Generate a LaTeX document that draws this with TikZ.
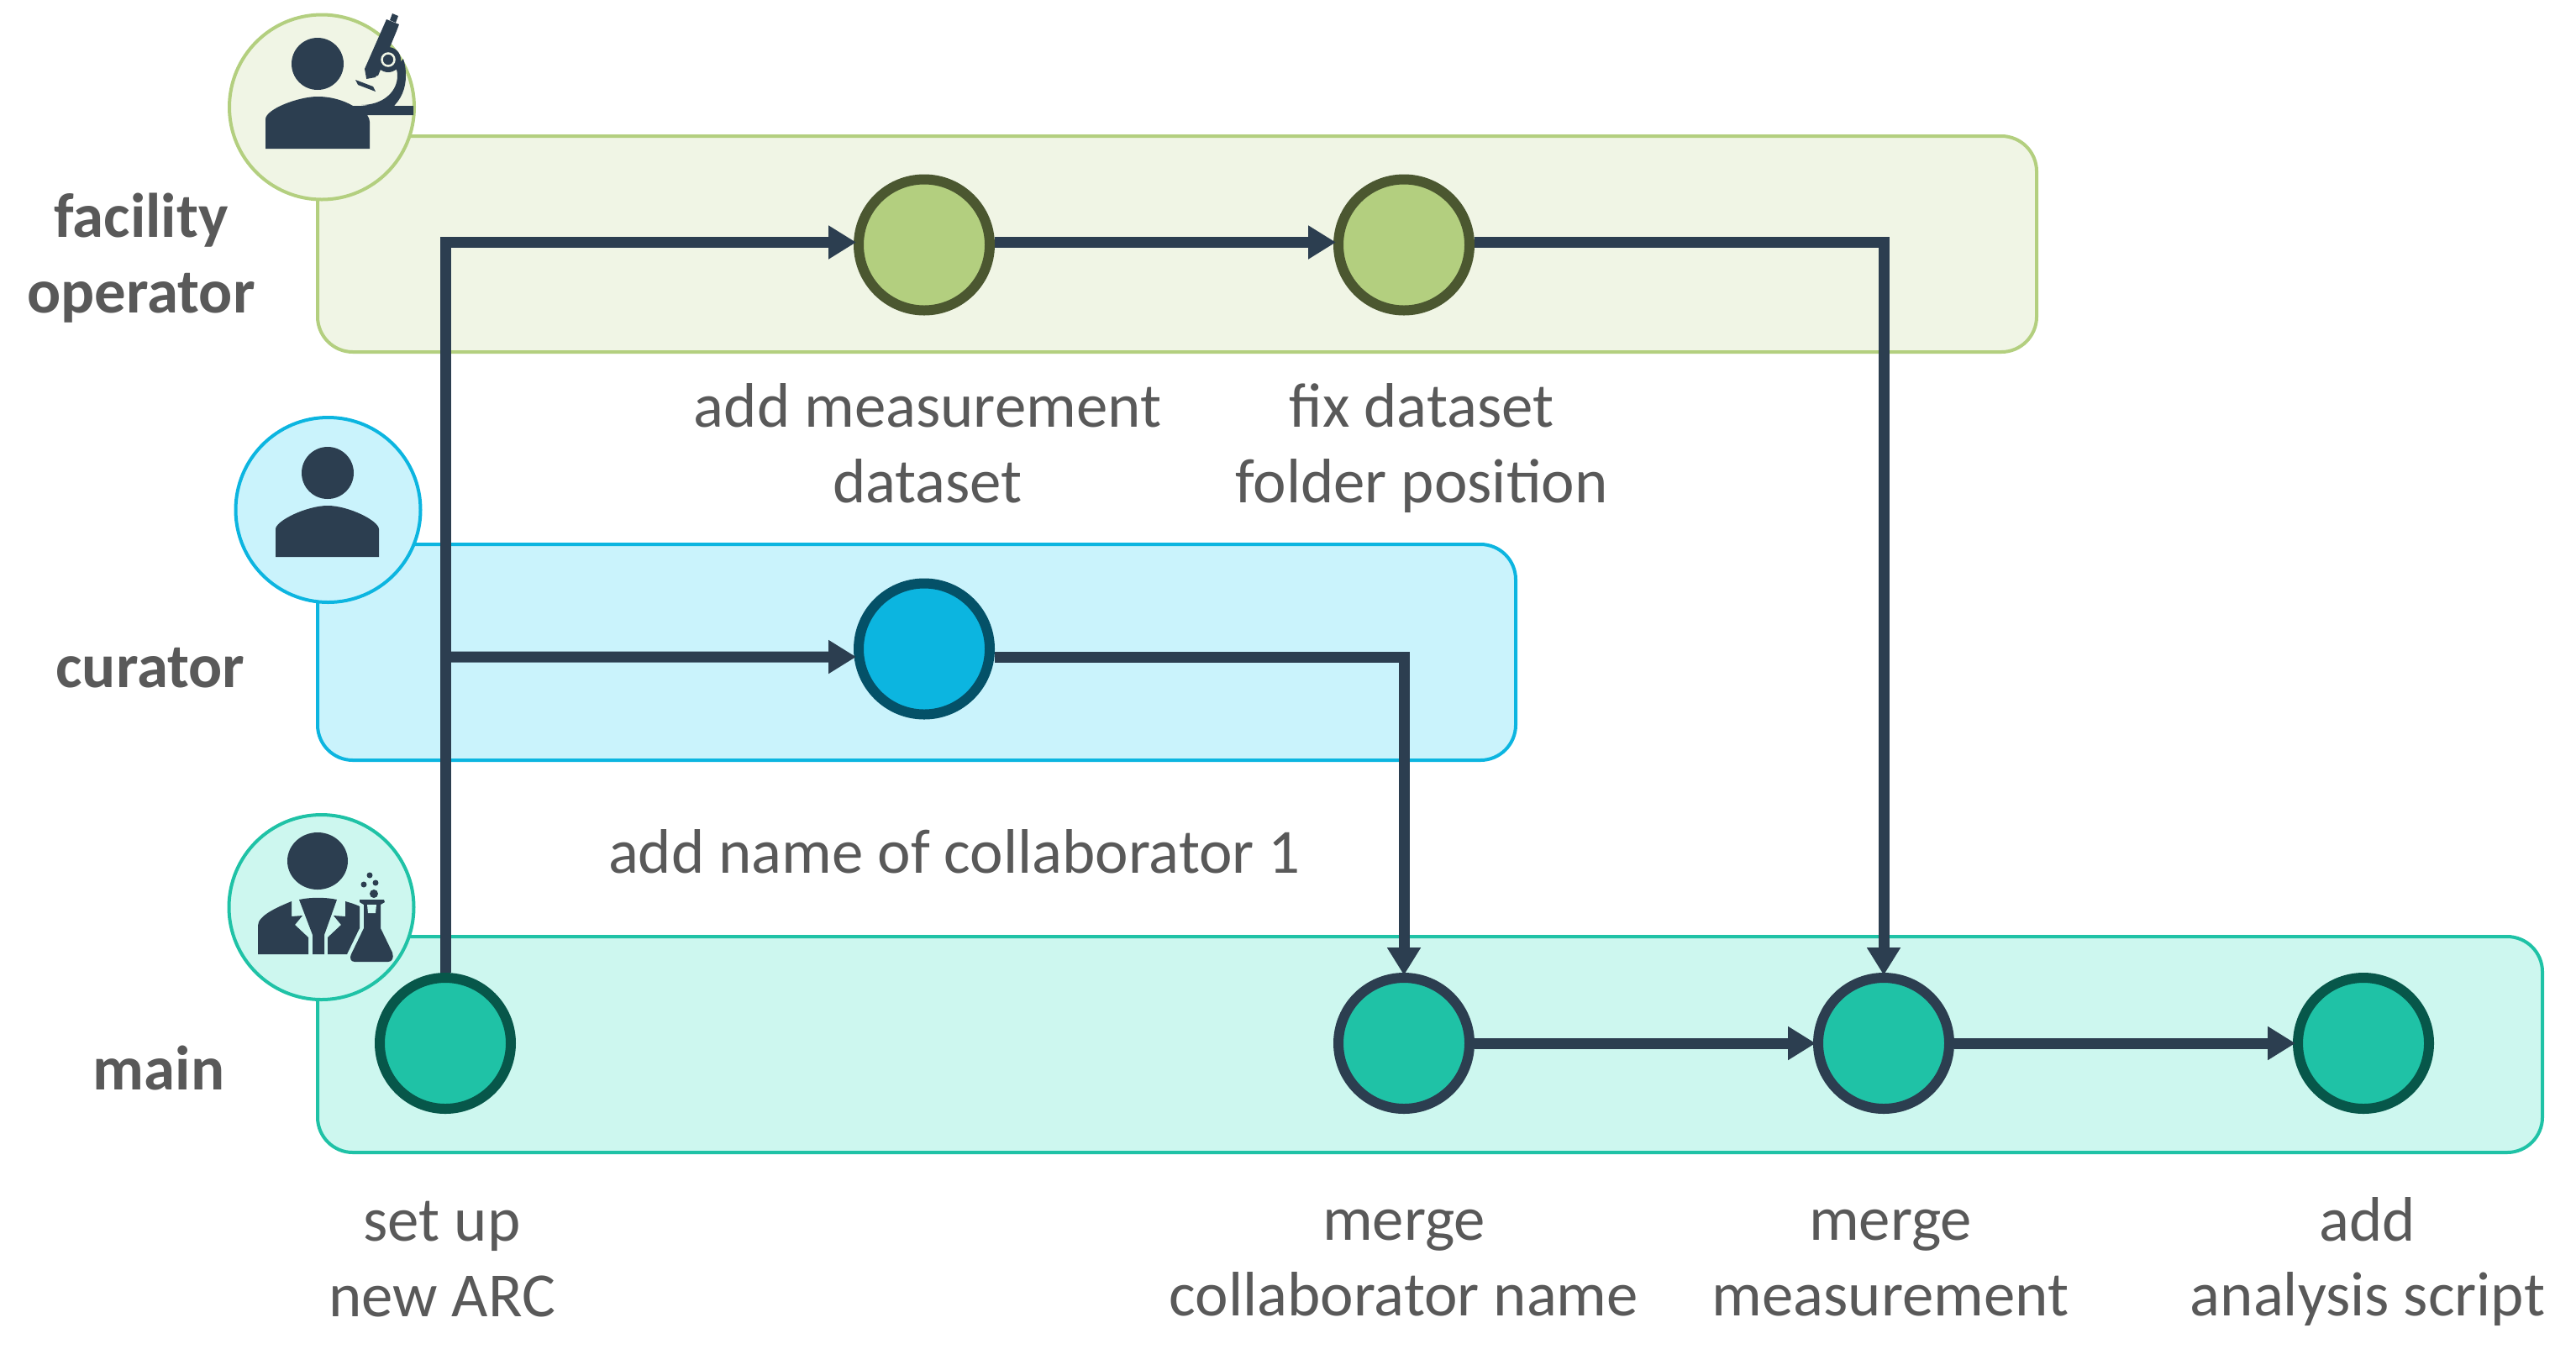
\documentclass[tikz,border=0pt]{standalone}
\usepackage{fontspec}
\setmainfont{Carlito}
\usetikzlibrary{arrows.meta,positioning}
\definecolor{ink}{HTML}{2C3E50}
\definecolor{labelgray}{HTML}{595959}
\definecolor{facilityline}{HTML}{B3CF7F}
\definecolor{facilityfill}{HTML}{F0F5E5}
\definecolor{facilitydark}{HTML}{4B5730}
\definecolor{curatorline}{HTML}{0CB5E0}
\definecolor{curatorfill}{HTML}{CAF3FC}
\definecolor{curatordark}{HTML}{045168}
\definecolor{mainline}{HTML}{1FC2A6}
\definecolor{mainfill}{HTML}{CDF7EF}
\definecolor{maindark}{HTML}{07574A}

\begin{document}
\begin{tikzpicture}[
          lane/.style={rectangle, draw, line width=0.04cm, rounded corners=0.42cm},
          persona/.style={circle, draw, line width=0.04cm, minimum size=2.2cm, inner sep=0},
          stepdot/.style={circle, draw, line width=0.12cm, minimum size=1.56cm, inner sep=0},
          facilitystep/.style={stepdot, fill=facilityline, draw=facilitydark},
          curatorstep/.style={stepdot, fill=curatorline, draw=curatordark},
          mainstep/.style={stepdot, fill=mainline, draw=maindark},
          mergestep/.style={stepdot, fill=mainline, draw=ink},
          flow/.style={-{Triangle[length=0.33cm,width=0.38cm]}, line width=0.13cm, draw=ink, shorten >=-0.03cm},
          steplabel/.style={align=center, text=labelgray, font=\fontsize{21.3}{25.6}\selectfont},
          rolelabel/.style={steplabel, font=\fontsize{21.3}{25.6}\selectfont\bfseries},
          icon/.style={fill=ink, draw=none}]
          \useasboundingbox (0,0) rectangle (30.66,-16.30);

          % lanes
          \node[lane, draw=facilityline, fill=facilityfill, minimum width=20.46cm, minimum height=2.57cm] (facilitylane) at (14.01,-2.905) {};
          \node[lane, draw=curatorline, fill=curatorfill, minimum width=14.26cm, minimum height=2.57cm] (curatorlane) at (10.91,-7.765) {};
          \node[lane, draw=mainline, fill=mainfill, minimum width=26.48cm, minimum height=2.57cm] (mainlane) at (17.02,-12.435) {};

          % role circles
          \node[persona, draw=facilityline, fill=facilityfill] (facilityrole) at (3.83,-1.275) {};
          \node[persona, draw=curatorline, fill=curatorfill] (curatorrole) at (3.905,-6.07) {};
          \node[persona, draw=mainline, fill=mainfill] (mainrole) at (3.825,-10.80) {};

          % facility operator icon
          \fill[icon] (3.78,-0.76) circle (0.31);
          \fill[icon] (3.16,-1.77) -- (3.16,-1.42) .. controls (3.16,-1.30) and (3.55,-1.15) .. (3.78,-1.15)
            .. controls (3.95,-1.15) and (4.10,-1.20) .. (4.20,-1.26) -- (4.92,-1.26) -- (4.92,-1.37) -- (4.37,-1.37)
            .. controls (4.39,-1.40) and (4.40,-1.42) .. (4.40,-1.45) -- (4.40,-1.77) -- cycle;
          \fill[icon] (4.30,-1.25) .. controls (4.55,-1.25) and (4.73,-1.10) .. (4.73,-0.90)
            .. controls (4.73,-0.85) and (4.72,-0.82) .. (4.70,-0.80) -- (4.80,-0.70)
            .. controls (4.83,-0.80) and (4.83,-0.85) .. (4.83,-0.90)
            .. controls (4.83,-1.05) and (4.78,-1.18) .. (4.66,-1.29) -- cycle;
          \fill[icon] (4.60,-0.23) -- (4.75,-0.29) -- (4.72,-0.37) -- (4.50,-0.90) -- (4.36,-0.93) -- (4.34,-0.82) -- cycle;
          \fill[icon] (4.67,-0.16) -- (4.74,-0.19) -- (4.71,-0.27) -- (4.64,-0.24) -- cycle;
          \fill[icon] (4.62,-0.71) circle (0.15);
          \fill[icon] (4.36,-0.88) -- (4.50,-0.84) -- (4.47,-0.92) -- (4.36,-0.94) -- cycle;
          \fill[icon] (4.23,-0.95) -- (4.26,-1.01) -- (4.47,-1.09) -- (4.44,-1.03) -- cycle;
          \draw[icon, draw=facilityfill, line width=0.025cm] (4.62,-0.71) circle (0.075);

          % curator icon
          \fill[icon] (3.90,-5.63) circle (0.31);
          \fill[icon] (3.28,-6.63) -- (3.28,-6.30) .. controls (3.28,-6.20) and (3.65,-6.02) .. (3.90,-6.02)
            .. controls (4.15,-6.02) and (4.51,-6.20) .. (4.51,-6.30) -- (4.51,-6.63) -- cycle;

          % main icon
          \fill[icon] (3.78,-10.25) ellipse (0.36 and 0.34);
          \fill[icon] (3.07,-11.36) -- (3.07,-11.02) .. controls (3.07,-10.90) and (3.30,-10.80) .. (3.47,-10.73)
            -- (3.47,-10.91) -- (3.60,-10.90) -- (3.51,-11.01) -- (3.67,-11.16) -- (3.67,-11.36) -- cycle;
          \fill[icon] (3.56,-10.71) .. controls (3.70,-10.68) and (3.87,-10.68) .. (4.01,-10.71)
            -- (3.86,-11.13) -- (3.86,-11.36) -- (3.72,-11.36) -- (3.72,-11.13) -- cycle;
          \fill[icon] (3.90,-11.36) -- (3.90,-11.16) -- (4.06,-11.01) -- (3.97,-10.90) -- (4.11,-10.91) -- (4.11,-10.73)
            .. controls (4.18,-10.75) and (4.24,-10.77) .. (4.28,-10.79) -- (4.28,-11.05) -- (4.13,-11.36) -- cycle;
          \fill[icon] (4.28,-10.71) -- (4.57,-10.71) -- (4.58,-10.74) -- (4.53,-10.77) -- (4.53,-11.05) -- (4.67,-11.34)
            .. controls (4.69,-11.40) and (4.67,-11.45) .. (4.62,-11.45) -- (4.22,-11.45)
            .. controls (4.17,-11.45) and (4.16,-11.40) .. (4.18,-11.36) -- (4.33,-11.05) -- (4.33,-10.77) -- (4.28,-10.74) -- cycle;
          \fill[mainfill] (4.37,-10.77) -- (4.48,-10.77) -- (4.47,-10.87) -- (4.38,-10.87) -- cycle;
          \fill[icon] (4.45,-10.64) circle (0.05);
          \fill[icon] (4.33,-10.53) circle (0.035);
          \fill[icon] (4.47,-10.51) circle (0.035);
          \fill[icon] (4.40,-10.42) circle (0.035);

          % steps
          \node[mainstep] (setup) at (5.30,-12.42) {};
          \node[mergestep, right of=setup, node distance=11.41cm] (mergename) {};
          \node[mergestep, right of=mergename, node distance=5.71cm] (mergemeasure) {};
          \node[mainstep, right of=mergemeasure, node distance=5.71cm] (addscript) {};
          \node[facilitystep] (addmeasure) at (11.00,-2.915) {};
          \node[facilitystep, right of=addmeasure, node distance=5.71cm] (fixfolder) {};
          \node[curatorstep, below of=addmeasure, node distance=4.81cm] (addname) {};

          % step labels
          \node[steplabel, below of=addmeasure, node distance=2.36cm, xshift=0.04cm] (addmeasurelabel) {add measurement\\dataset};
          \node[steplabel, below of=fixfolder, node distance=2.42cm, xshift=0.21cm] (fixfolderlabel) {fix dataset\\folder position};
          \node[steplabel, below of=addname, node distance=2.41cm, xshift=0.36cm] (addnamelabel) {add name of collaborator 1};
          \node[steplabel, below of=setup, node distance=2.57cm, xshift=-0.04cm] (setuplabel) {set up\\new ARC};
          \node[steplabel, below of=mergename, node distance=2.62cm] (mergenamelabel) {merge\\collaborator name};
          \node[steplabel, below of=mergemeasure, node distance=2.62cm, xshift=0.08cm] (mergemeasurelabel) {merge\\measurement};
          \node[steplabel, below of=addscript, node distance=2.60cm, xshift=0.05cm] (addscriptlabel) {add\\analysis script};

          % role labels
          \node[rolelabel] (facilitylabel) at (1.68,-3.07) {facility\\operator};
          \node[rolelabel] (curatorlabel) at (1.79,-7.95) {curator};
          \node[rolelabel] (mainlabel) at (1.89,-12.71) {main};

          % branch point on the way up from set up
          \coordinate (branch) at (setup |- 0,-7.82);

          \draw[flow] (setup.north) |- ([yshift=0.03cm]addmeasure.west);
          \draw[flow] (branch) -- ([yshift=-0.095cm]addname.west);
          \draw[flow] ([yshift=0.03cm]addmeasure.east) -- ([yshift=0.03cm]fixfolder.west);
          \draw[flow] ([yshift=0.03cm]fixfolder.east) -| (mergemeasure.north);
          \draw[flow] ([yshift=-0.095cm]addname.east) -| (mergename.north);
          \draw[flow] (mergename) -- (mergemeasure);
          \draw[flow] (mergemeasure) -- (addscript);
        \end{tikzpicture}
\end{document}
